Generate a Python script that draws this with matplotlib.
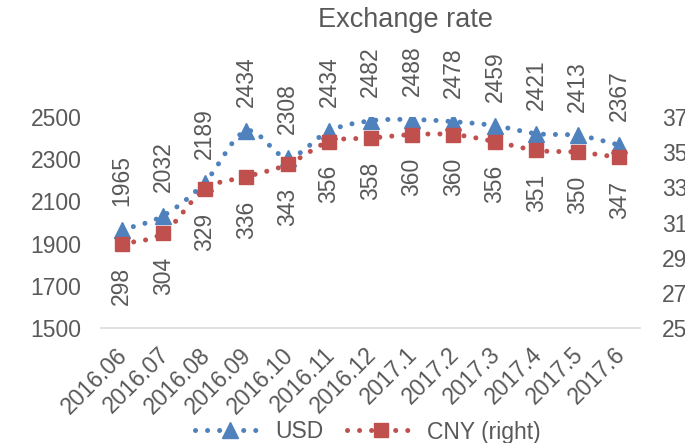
import numpy as np
import matplotlib
matplotlib.use("Agg")
import matplotlib.pyplot as plt
from matplotlib.lines import Line2D
from matplotlib.transforms import ScaledTranslation

plt.rcParams['font.family'] = ['Liberation Sans', 'DejaVu Sans']

months = ["2016.06", "2016.07", "2016.08", "2016.09", "2016.10", "2016.11",
          "2016.12", "2017.1", "2017.2", "2017.3", "2017.4", "2017.5", "2017.6"]
usd = [1965, 2032, 2189, 2434, 2308, 2434, 2482, 2488, 2478, 2459, 2421, 2413, 2367]
cny = [298, 304, 329, 336, 343, 356, 358, 360, 360, 356, 351, 350, 347]

left_ticks = [1500, 1700, 1900, 2100, 2300, 2500]
right_ticks = [250, 270, 290, 310, 330, 350, 370]

BLUE = "#4F81BD"
RED = "#C0504D"
TEXT = "#595959"
FS = 16.5


def smooth_curve(xs, ys, steps=24):
    """Bezier smoothing through every point (spreadsheet-style smoothed line)."""
    P = np.column_stack([xs, ys]).astype(float)
    n = len(P)
    out = []
    t = np.linspace(0, 1, steps)[:, None]
    for i in range(n - 1):
        p0 = P[i - 1] if i > 0 else P[i]
        p1, p2 = P[i], P[i + 1]
        p3 = P[i + 2] if i + 2 < n else P[i + 1]
        c1 = p1 + (p2 - p0) / 6.0
        c2 = p2 - (p3 - p1) / 6.0
        seg = ((1 - t) ** 3) * p1 + 3 * ((1 - t) ** 2) * t * c1 + 3 * (1 - t) * t ** 2 * c2 + t ** 3 * p2
        out.append(seg if i == 0 else seg[1:])
    out = np.vstack(out)
    return out[:, 0], out[:, 1]


dot_style = dict(linestyle=(0, (0.01, 2.4)), lw=3.6, dash_capstyle='round')

fig = plt.figure(figsize=(6.85, 4.43), dpi=100)
ax = fig.add_axes([101 / 685, 1 - 328 / 443, (640 - 101) / 685, (328 - 117) / 443])
ax2 = ax.twinx()

x = np.arange(len(months))

# USD on the primary axis
sx, sy = smooth_curve(x, usd)
ax.plot(sx, sy, color=BLUE, **dot_style)
ax.plot(x, usd, linestyle='none', marker='^', ms=11.5, color=BLUE, mec=BLUE)
for xi, v in zip(x, usd):
    ax.annotate(str(v), (xi, v), xytext=(0, 17), textcoords='offset points',
                rotation=90, ha='center', va='bottom', fontsize=FS, color=TEXT)

# CNY on the secondary axis
sx2, sy2 = smooth_curve(x, cny)
ax2.plot(sx2, sy2, color=RED, **dot_style)
ax2.plot(x, cny, linestyle='none', marker='s', ms=10.5, color=RED, mec=RED)
for xi, v in zip(x, cny):
    ax2.annotate(str(v), (xi, v), xytext=(0, -17), textcoords='offset points',
                 rotation=90, ha='center', va='top', fontsize=FS, color=TEXT)

ax.set_xlim(-0.5, len(months) - 0.5)
ax.set_ylim(1500, 2500)
ax2.set_ylim(250, 370)
ax.set_yticks(left_ticks)
ax2.set_yticks(right_ticks)
ax.set_xticks(x)
ax.set_xticklabels(months, rotation=45, ha='right', va='top', rotation_mode='anchor')

for a in (ax, ax2):
    for s in a.spines.values():
        s.set_visible(False)
    a.tick_params(length=0, labelsize=FS, labelcolor=TEXT)
ax.spines['bottom'].set_visible(True)
ax.spines['bottom'].set_color('#D9D9D9')
ax.spines['bottom'].set_linewidth(1.2)
ax.tick_params(axis='y', pad=14)
ax.tick_params(axis='x', pad=6)
ax2.tick_params(axis='y', pad=16)

# nudge the slanted month labels down and to the left
shift = ScaledTranslation(-6 / 100, -7 / 100, fig.dpi_scale_trans)
for lbl in ax.get_xticklabels():
    lbl.set_transform(lbl.get_transform() + shift)

fig.text(405 / 685, 1 - 20 / 443, "Exchange rate", ha='center', va='center',
         fontsize=19.5, color=TEXT)

handles = [
    Line2D([0], [0], color=BLUE, marker='^', ms=11.5, **dot_style),
    Line2D([0], [0], color=RED, marker='s', ms=10.5, **dot_style),
]
leg = fig.legend(handles, ["USD", "CNY (right)"], loc='center',
                 bbox_to_anchor=(368 / 685, 1 - 432 / 443), ncol=2, frameon=False,
                 fontsize=FS, handlelength=3.0, handletextpad=0.5,
                 columnspacing=1.0, numpoints=1, borderpad=0, borderaxespad=0)
for t in leg.get_texts():
    t.set_color(TEXT)

fig.savefig("out.png", dpi=100)
